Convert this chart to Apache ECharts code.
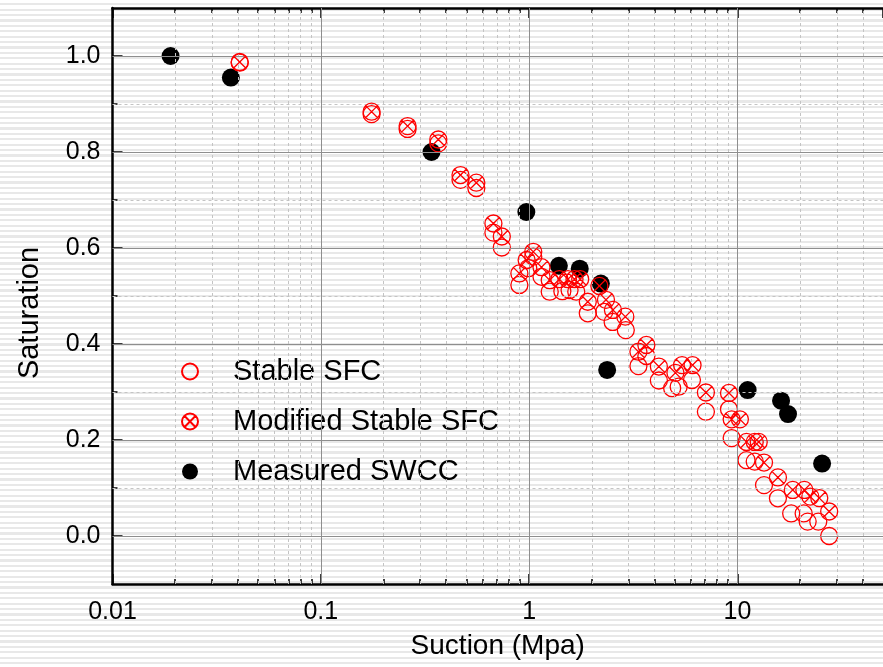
<!DOCTYPE html>
<html>
<head>
<meta charset="utf-8">
<script src="https://cdn.jsdelivr.net/npm/echarts@6/dist/echarts.min.js"></script>
<style>
html,body{margin:0;padding:0;}
body{background:repeating-linear-gradient(180deg,#ffffff 0px,#ffffff 3.2px,#e8e8e8 3.2px,#e8e8e8 5.4px);}
#c{width:883px;height:667px;}
</style>
</head>
<body>
<div id="c"></div>
<script>
// Measured SWCC
const measuredX = [0.019, 0.037, 0.34, 0.97, 1.39, 1.75, 2.21, 2.37, 11.2, 16.2, 17.5, 25.5];
const measuredY = [1.0, 0.955, 0.80, 0.675, 0.563, 0.557, 0.526, 0.346, 0.304, 0.282, 0.254, 0.151];
// Stable SFC
const stableX = [0.0408,0.1753,0.261,0.3666,0.4684,0.558,0.674,0.7396,0.898,0.991,1.047,1.147,1.256,1.444,1.564,1.684,1.913,2.296,2.518,2.912,3.348,3.655,4.197,4.862,5.225,6.05,7.059,9.11,9.385,11.06,12.11,13.42,15.65,18.12,20.8,21.74,24.45,27.58];
const stableY = [0.986,0.879,0.848,0.818,0.742,0.725,0.632,0.601,0.523,0.558,0.582,0.540,0.509,0.510,0.5125,0.509,0.464,0.467,0.446,0.429,0.354,0.375,0.324,0.308,0.311,0.325,0.259,0.264,0.204,0.158,0.155,0.106,0.0785,0.047,0.047,0.030,0.030,0.0];
// Modified Stable SFC
const modX = [0.0408,0.1753,0.261,0.3666,0.4684,0.558,0.674,0.7396,0.898,0.973,1.047,1.147,1.256,1.397,1.537,1.652,1.759,2.174,1.913,2.339,2.526,2.897,3.348,3.655,4.197,5.04,5.424,6.091,7.059,9.11,9.385,10.28,11.06,12.11,12.66,13.42,15.65,18.44,20.96,22.39,24.72,27.58];
const modY = [0.9875,0.884,0.854,0.826,0.752,0.736,0.651,0.624,0.547,0.575,0.592,0.560,0.533,0.535,0.535,0.535,0.535,0.521,0.488,0.492,0.471,0.457,0.384,0.398,0.353,0.340,0.356,0.356,0.299,0.298,0.243,0.243,0.196,0.196,0.196,0.153,0.122,0.096,0.096,0.082,0.079,0.051];
// axis ticks
const xMajor = [0.01, 0.1, 1, 10];
const xMinor = [0.02,0.03,0.04,0.05,0.06,0.07,0.08,0.09,0.2,0.3,0.4,0.5,0.6,0.7,0.8,0.9,2,3,4,5,6,7,8,9,20,30,40];
const yMajor = [0.0, 0.2, 0.4, 0.6, 0.8, 1.0];
const yMinor = [0.1, 0.3, 0.5, 0.7, 0.9];

const zip = (a, b) => a.map((v, i) => [v, b[i]]);
const FONT = '"Liberation Sans", Arial, sans-serif';
const crossSym = 'path://M10,0A10,10,0,1,1,10,20A10,10,0,1,1,10,0Z M2.6,2.6L17.4,17.4M17.4,2.6L2.6,17.4';
const RED = '#ff0000';

const chart = echarts.init(document.getElementById('c'), null, {renderer: 'canvas'});
const axisBlack = {show: true, onZero: false, lineStyle: {color: '#000', width: 2.5}};
const axisNone = {show: false, onZero: false};
const xBase = {type: 'log', logBase: 10, min: 0.01, max: 50, gridIndex: 0, splitLine: {show: false}, minorTick: {show: false}};
const yBase = {type: 'value', min: -0.1, max: 1.1, interval: 0.1, gridIndex: 0, splitLine: {show: false}};

const option = {
  backgroundColor: 'transparent',
  animation: false,
  grid: {left: 112.5, right: -5, top: 8, bottom: 83, containLabel: false},
  legend: {
    orient: 'vertical', left: 176, top: 352, itemGap: 21,
    itemWidth: 76, itemHeight: 16, symbolKeepAspect: true,
    textStyle: {fontFamily: FONT, fontSize: 29, color: '#000'},
    data: ['Stable SFC', 'Modified Stable SFC', 'Measured SWCC']
  },
  xAxis: [
    Object.assign({}, xBase, {
      position: 'bottom',
      name: 'Suction (Mpa)', nameLocation: 'middle', nameGap: 48,
      nameTextStyle: {fontFamily: FONT, fontSize: 28, color: '#000'},
      axisLine: axisBlack,
      axisTick: {show: true, inside: true, length: 10, lineStyle: {color: '#000', width: 1.5}},
      axisLabel: {show: true, margin: 16, fontFamily: FONT, fontSize: 25, color: '#000', showMaxLabel: false,
        formatter: v => (xMajor.indexOf(+v) >= 0 ? String(+v) : '')}
    }),
    Object.assign({}, xBase, {
      position: 'bottom',
      axisLine: axisNone,
      axisTick: {show: true, inside: true, length: 5, customValues: xMinor, lineStyle: {color: '#000', width: 1.5}},
      axisLabel: {show: false}
    }),
    Object.assign({}, xBase, {
      position: 'top',
      axisLine: axisBlack,
      axisTick: {show: true, inside: true, length: 10, lineStyle: {color: '#000', width: 1.5}},
      axisLabel: {show: false}
    }),
    Object.assign({}, xBase, {
      position: 'top',
      axisLine: axisNone,
      axisTick: {show: true, inside: true, length: 5, customValues: xMinor, lineStyle: {color: '#000', width: 1.5}},
      axisLabel: {show: false}
    })
  ],
  yAxis: [
    Object.assign({}, yBase, {
      position: 'left',
      name: 'Saturation', nameLocation: 'middle', nameGap: 68, nameRotate: 90,
      nameTextStyle: {fontFamily: FONT, fontSize: 29, color: '#000', padding: [0, 34, 0, 0]},
      axisLine: axisBlack,
      axisTick: {show: true, inside: true, length: 10, customValues: yMajor, lineStyle: {color: '#000', width: 1.5}},
      axisLabel: {show: true, margin: 12, fontFamily: FONT, fontSize: 25, color: '#000', customValues: yMajor,
        formatter: v => { const k = Math.round(v * 10); return (k >= 0 && k % 2 === 0) ? (k / 10).toFixed(1) : ''; }}
    }),
    Object.assign({}, yBase, {
      position: 'left',
      axisLine: axisNone,
      axisTick: {show: true, inside: true, length: 5, customValues: yMinor, lineStyle: {color: '#000', width: 1.5}},
      axisLabel: {show: false}
    })
  ],
  series: [
    {
      name: 'grid-lines', type: 'scatter', data: [], z: 1, silent: true,
      xAxisIndex: 0, yAxisIndex: 0,
      markLine: {
        silent: true, symbol: ['none', 'none'], label: {show: false}, animation: false,
        data: []
          .concat(xMinor.map(v => ({xAxis: v, lineStyle: {color: '#c4c4c4', width: 1, type: [3, 3]}})))
          .concat(yMinor.map(v => ({yAxis: v, lineStyle: {color: '#c4c4c4', width: 1, type: [3, 3]}})))
          .concat(xMajor.slice(1).map(v => ({xAxis: v, lineStyle: {color: '#8e8e8e', width: 1, type: 'solid'}})))
          .concat(yMajor.map(v => ({yAxis: v, lineStyle: {color: '#8e8e8e', width: 1, type: 'solid'}})))
      }
    },
    {
      name: 'Measured SWCC', type: 'scatter', z: 3, xAxisIndex: 0, yAxisIndex: 0,
      symbol: 'circle', symbolSize: 18,
      itemStyle: {color: '#000', opacity: 1},
      data: zip(measuredX, measuredY)
    },
    {
      name: 'Stable SFC', type: 'scatter', z: 4, xAxisIndex: 0, yAxisIndex: 0,
      symbol: 'circle', symbolSize: 17,
      itemStyle: {color: 'rgba(255,255,255,0)', borderColor: RED, borderWidth: 1.3, opacity: 1},
      data: zip(stableX, stableY)
    },
    {
      name: 'Modified Stable SFC', type: 'scatter', z: 5, xAxisIndex: 0, yAxisIndex: 0,
      symbol: crossSym, symbolSize: 17, symbolKeepAspect: true,
      itemStyle: {color: 'rgba(255,255,255,0)', borderColor: RED, borderWidth: 1.3, opacity: 1},
      data: zip(modX, modY)
    }
  ]
};
chart.setOption(option);
</script>
</body>
</html>
